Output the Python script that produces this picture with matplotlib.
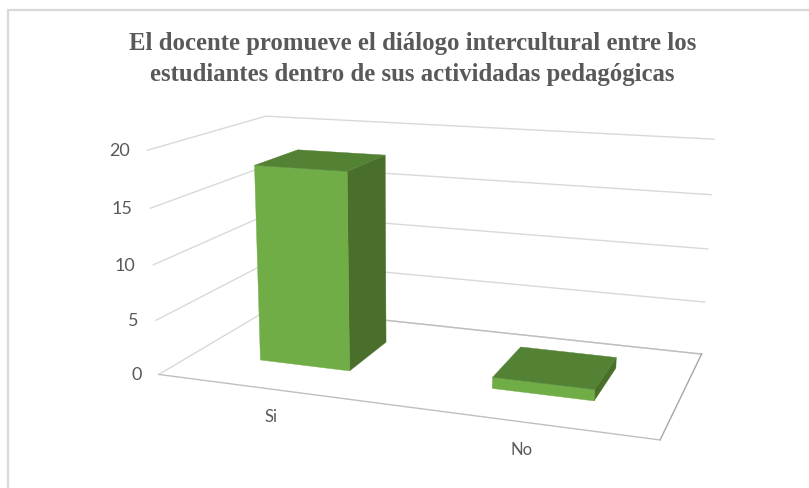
import numpy as np
import matplotlib
matplotlib.use('Agg')
import matplotlib.pyplot as plt
from matplotlib.patches import Polygon

categorias = ['Si', 'No']
valores = [18, 1]
ticks = [0, 5, 10, 15, 20]
titulo = 'El docente promueve el diálogo intercultural entre los\nestudiantes dentro de sus actividadas pedagógicas'

# calibracion de la camara: (x, profundidad, valor) -> pixel de la imagen
calib_3d = [(0, 0, 0), (0, 0, 5), (0, 0, 10), (0, 0, 15), (0, 0, 20),
            (0, 1, 0), (0, 1, 5), (0, 1, 10), (0, 1, 15), (0, 1, 20),
            (1, 1, 0), (1, 1, 5), (1, 1, 10), (1, 1, 15), (1, 1, 20),
            (1, 0, 0)]
calib_px = [(160, 374), (157, 321), (153, 265), (149, 208), (147, 150),
            (270, 307), (269, 262), (268, 215), (268, 165), (267, 116),
            (702, 354), (705, 302), (708, 249), (711, 195), (714, 139),
            (660, 440)]


def ajustar_camara(p3d, p2d):
    filas = []
    for (x, d, v), (u, w) in zip(p3d, p2d):
        X = [x, d, v / 20, 1]
        filas.append(X + [0, 0, 0, 0] + [-u / 800 * a for a in X])
        filas.append([0, 0, 0, 0] + X + [-w / 800 * a for a in X])
    _, _, vt = np.linalg.svd(np.array(filas))
    return vt[-1].reshape(3, 4)


P = ajustar_camara(calib_3d, calib_px)


def proyectar(x, d, v):
    h = P @ np.array([x, d, v / 20, 1])
    return h[0] / h[2] * 800, h[1] / h[2] * 800


fig = plt.figure(figsize=(8.09, 4.88), dpi=100, facecolor='white')
ax = fig.add_axes([0, 0, 1, 1])
ax.set_xlim(0, 809)
ax.set_ylim(488, 0)
ax.axis('off')

# borde del grafico
ax.plot([8, 8, 809], [488, 10, 10], color='#d9d9d9', lw=1.6, solid_joinstyle='miter')

# rejilla
for t in ticks:
    pts = [proyectar(0, 0, t), proyectar(0, 1, t), proyectar(1, 1, t)]
    ax.plot(*zip(*pts), color='#d9d9d9', lw=1.0, zorder=1)
    u, w = pts[0]
    ax.text(u - 17.5, w + 1, str(t), ha='right', va='center', fontsize=13,
            family='Lato', color='#595959')

# suelo
suelo = [proyectar(0, 1, 0), proyectar(1, 1, 0), proyectar(1, 0, 0), proyectar(0, 0, 0)]
ax.plot(*zip(*suelo[:2]), color='#bfbfbf', lw=1.0, zorder=1)
ax.plot(*zip(*suelo[1:3]), color='#a6a6a6', lw=1.0, zorder=1)
ax.plot(*zip(*suelo[2:]), color='#bfbfbf', lw=1.0, zorder=1)

# barras
ancho = 0.2
d0, d1 = 0.3, 0.7
for i, (cat, val) in enumerate(zip(categorias, valores)):
    xc = (i + 0.5) / len(categorias)
    x0, x1 = xc - ancho / 2, xc + ancho / 2
    frente = [proyectar(x0, d0, 0), proyectar(x1, d0, 0), proyectar(x1, d0, val), proyectar(x0, d0, val)]
    lado = [proyectar(x1, d0, 0), proyectar(x1, d1, 0), proyectar(x1, d1, val), proyectar(x1, d0, val)]
    tapa = [proyectar(x0, d0, val), proyectar(x1, d0, val), proyectar(x1, d1, val), proyectar(x0, d1, val)]
    ax.add_patch(Polygon(lado, closed=True, fc='#4a6f2b', ec='#4a6f2b', lw=0.3, zorder=3))
    ax.add_patch(Polygon(frente, closed=True, fc='#70ad47', ec='#70ad47', lw=0.3, zorder=3))
    ax.add_patch(Polygon(tapa, closed=True, fc='#548235', ec='#548235', lw=0.3, zorder=3))
    u, w = proyectar(xc, 0, 0)
    ax.text(u, w + 28, cat, ha='center', va='center', fontsize=12,
            family='Lato', color='#595959')

ax.text(412.5, 59, titulo, ha='center', va='center', fontsize=17.8, fontweight='bold',
        family='Liberation Serif', color='#595959', linespacing=1.45)

fig.savefig('out.png', dpi=100)
